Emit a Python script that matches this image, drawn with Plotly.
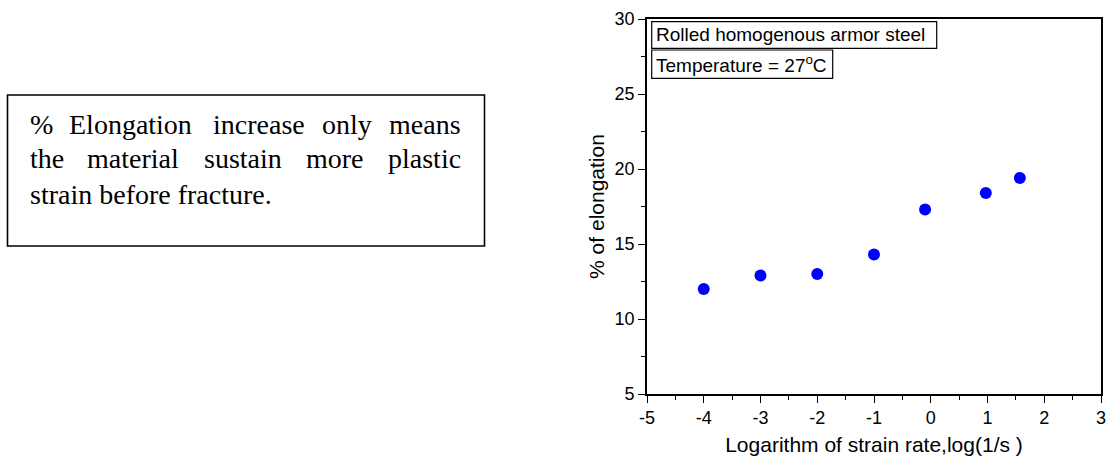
import plotly.graph_objects as go

# Strain-rate sensitivity of elongation, rolled homogenous armor steel at 27 °C
log_strain_rate = [-4.0, -3.0, -2.0, -1.0, -0.1, 0.97, 1.57]
elongation_pct = [12.0, 12.9, 13.0, 14.3, 17.3, 18.4, 19.4]

x_range = [-5, 3]
y_range = [5, 30]
x_ticks = [-5, -4, -3, -2, -1, 0, 1, 2, 3]
y_ticks = [5, 10, 15, 20, 25, 30]

W, H = 1115, 457
L, R, T, B = 647, 14, 19, 63
PW = W - L - R
PH = H - T - B


def px(x):
    """Figure pixel x -> paper coordinate."""
    return (x - L) / PW


def py(y):
    """Figure pixel y (from top) -> paper coordinate."""
    return 1 - (y - T) / PH


fig = go.Figure()
fig.add_trace(go.Scatter(
    x=log_strain_rate, y=elongation_pct, mode="markers",
    marker=dict(color="#0000FF", size=12, line=dict(width=0)),
    showlegend=False,
))

axis_common = dict(
    automargin=False,
    showgrid=False, zeroline=False, showline=True, linecolor="black",
    linewidth=1.6, mirror=True, ticks="outside", ticklen=7, tickwidth=1.4,
    tickcolor="black", tickfont=dict(family="Liberation Sans", size=18, color="black"),
)
fig.update_xaxes(
    range=x_range, tickvals=x_ticks, ticktext=[str(v) for v in x_ticks],
    title=dict(text="Logarithm of strain rate,log(1/s )", standoff=10,
               font=dict(family="Liberation Sans", size=21, color="black")),
    minor=dict(ticks="outside", dtick=0.5, ticklen=4, tickwidth=1.2, tickcolor="black"),
    **axis_common,
)
fig.update_yaxes(
    range=y_range, tickvals=y_ticks, ticktext=[str(v) for v in y_ticks],
    title=dict(text="% of elongation", standoff=4,
               font=dict(family="Liberation Sans", size=21, color="black")),
    minor=dict(ticks="outside", dtick=2.5, ticklen=4, tickwidth=1.2, tickcolor="black"),
    **axis_common,
)

shapes = []
annotations = []

# Labelled boxes inside the plot
for text, x0, y0, x1, y1 in [
    ("Rolled homogenous armor steel", 651.7, 21.7, 936.7, 48.3),
    ("Temperature = 27<sup>o</sup>C", 651.7, 50.0, 832.7, 78.3),
]:
    shapes.append(dict(type="rect", xref="paper", yref="paper",
                       x0=px(x0), x1=px(x1), y0=py(y1), y1=py(y0),
                       line=dict(color="black", width=1.2), fillcolor="white"))
    annotations.append(dict(text=text, xref="paper", yref="paper",
                            x=px(x0 + 2), y=py((y0 + y1) / 2),
                            xanchor="left", yanchor="middle", showarrow=False,
                            font=dict(family="Liberation Sans", size=19, color="black")))

# Note box on the left, with justified text
shapes.append(dict(type="rect", xref="paper", yref="paper",
                   x0=px(7.5), x1=px(484.5), y0=py(246), y1=py(95),
                   line=dict(color="black", width=1.6), fillcolor="white"))

note_words = [
    # (word, pixel x, anchor, line)
    ("%", 28, "left", 0), ("Elongation", 130.5, "center", 0),
    ("increase", 258.5, "center", 0), ("only", 346.7, "center", 0),
    ("means", 463, "right", 0),
    ("the", 28, "left", 1), ("material", 132.5, "center", 1),
    ("sustain", 243, "center", 1), ("more", 335, "center", 1),
    ("plastic", 463, "right", 1),
    ("strain before fracture.", 28, "left", 2),
]
line_y = [124, 159, 194]
for word, x, anchor, ln in note_words:
    annotations.append(dict(text=word, xref="paper", yref="paper",
                            x=px(x), y=py(line_y[ln]), xanchor=anchor,
                            yanchor="middle", showarrow=False,
                            font=dict(family="Liberation Serif", size=28, color="black")))

fig.update_layout(
    width=W, height=H, margin=dict(l=L, r=R, t=T, b=B),
    paper_bgcolor="white", plot_bgcolor="white",
    shapes=shapes, annotations=annotations,
)

fig.write_html("out.html")
